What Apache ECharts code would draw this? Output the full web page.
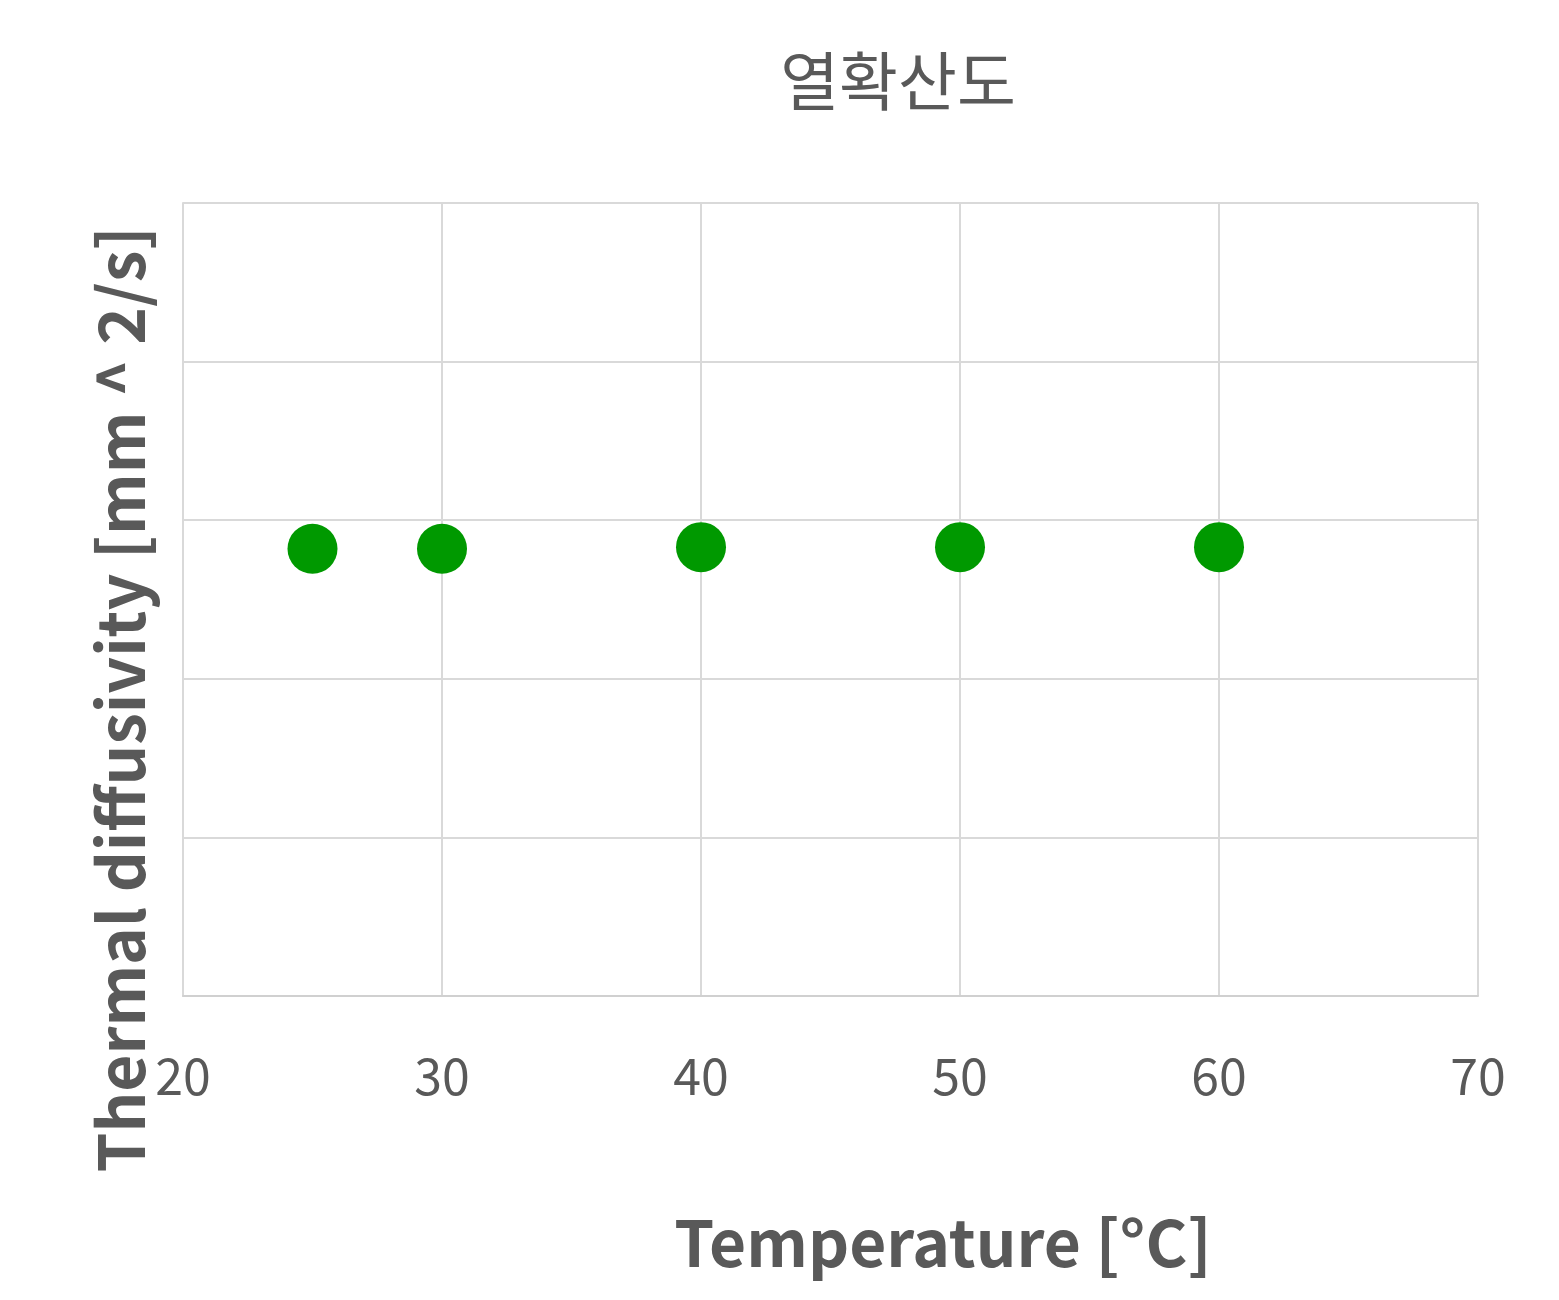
<!DOCTYPE html>
<html><head><meta charset="utf-8">
<script src="https://cdn.jsdelivr.net/npm/echarts@6/dist/echarts.min.js"></script>
<style>html,body{margin:0;padding:0;background:#fff}#c{width:1559px;height:1300px}</style>
</head><body><div id="c"></div>
<script>
const temperatures = [25, 30, 40, 50, 60];
const diffusivity = [0.141, 0.141, 0.1415, 0.1415, 0.1415];
const xTicks = [20, 30, 40, 50, 60, 70];
const chart = echarts.init(document.getElementById('c'));
const font = '"Noto Sans CJK KR","Open Sans","Noto Sans",sans-serif';
chart.setOption({
  animation: false,
  title: { text: '열확산도', left: 893, top: 44, textAlign: 'center',
    textStyle: { fontFamily: font, fontSize: 64, fontWeight: 'normal', color: '#595959' } },
  grid: { left: 183, right: 81, top: 203, bottom: 304 },
  xAxis: { type: 'value', min: 20, max: 70, interval: 10,
    name: 'Temperature [°C]', nameLocation: 'middle', nameGap: 215,
    nameTextStyle: { fontFamily: font, fontSize: 64, fontWeight: 'bold', color: '#595959', padding: [0, 0, 0, 225] },
    axisLine: { lineStyle: { color: '#d0d0d0', width: 2 } }, axisTick: { show: false },
    axisLabel: { fontFamily: font, fontSize: 50, color: '#595959', margin: 55 },
    splitLine: { lineStyle: { color: '#d9d9d9', width: 2 } } },
  yAxis: { type: 'value', min: 0, max: 0.25, interval: 0.05,
    name: 'Thermal diffusivity [mm ^ 2/s]', nameLocation: 'middle', nameGap: 30,
    nameTextStyle: { fontFamily: font, fontSize: 64, fontWeight: 'bold', color: '#595959', padding: [0, 0, 0, -200] },
    axisLine: { show: true, lineStyle: { color: '#d9d9d9', width: 2 } }, axisTick: { show: false },
    axisLabel: { show: false },
    splitLine: { lineStyle: { color: '#d9d9d9', width: 2 } } },
  series: [{ type: 'scatter', symbolSize: 50, itemStyle: { color: '#009900', opacity: 1 },
    data: temperatures.map((t, i) => [t, diffusivity[i]]) }]
});
</script></body></html>
